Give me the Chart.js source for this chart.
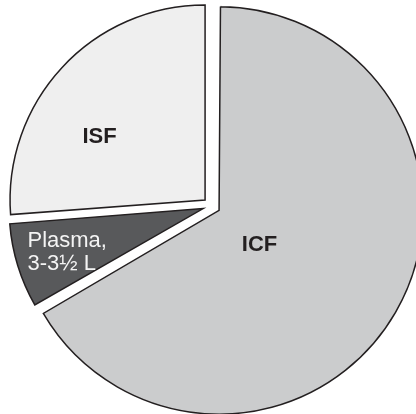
<!DOCTYPE html>
<html>
<head>
<meta charset="utf-8">
<script src="https://cdn.jsdelivr.net/npm/chart.js@4.4.1/dist/chart.umd.min.js"></script>
<style>
  html, body { margin: 0; padding: 0; background: #ffffff; }
  #wrap { width: 416px; height: 414px; position: relative; }
</style>
</head>
<body>
<div id="wrap"><canvas id="chart"></canvas></div>
<script>
// Body water compartments (litres)
const compartments = ['ICF', 'Plasma', 'ISF'];
const volumes = [28, 3, 11];

const fills = ['#cbcccd', '#58595b', '#efefef'];

// Exploded slices grow with their offset; the thin plasma wedge is pulled back in
const radiusTrim = [0, 6, 0];

// Text drawn inside each slice, placed relative to the pie centre
const sliceText = [
  { lines: ['ICF'], dx: 48, dy: 39, font: 'bold 22px "Liberation Sans", Arial, sans-serif', color: '#231f20', align: 'center' },
  { lines: ['Plasma,', '3-3\u00BD L'], dx: -184, dy: 41, font: '22px "Liberation Sans", Arial, sans-serif', color: '#f4f4f4', align: 'left', lineHeight: 23 },
  { lines: ['ISF'], dx: -112, dy: -69, font: 'bold 22px "Liberation Sans", Arial, sans-serif', color: '#231f20', align: 'center' }
];

const sliceRadius = {
  id: 'sliceRadius',
  beforeDatasetsDraw(chart) {
    const meta = chart.getDatasetMeta(0);
    meta.data.forEach((arc, i) => {
      if (arc._baseR === undefined) arc._baseR = arc.outerRadius;
      arc.outerRadius = arc._baseR - radiusTrim[i];
    });
  }
};

const sliceLabels = {
  id: 'sliceLabels',
  afterDatasetsDraw(chart) {
    const arc = chart.getDatasetMeta(0).data[0];
    const cx = arc.x, cy = arc.y;
    const ctx = chart.ctx;
    ctx.save();
    sliceText.forEach(t => {
      ctx.font = t.font;
      ctx.fillStyle = t.color;
      ctx.textAlign = t.align;
      if (t.lines.length === 1) {
        ctx.textBaseline = 'middle';
        ctx.fillText(t.lines[0], cx + t.dx, cy + t.dy);
      } else {
        ctx.textBaseline = 'alphabetic';
        t.lines.forEach((line, i) => {
          ctx.fillText(line, cx + t.dx, cy + t.dy + i * t.lineHeight);
        });
      }
    });
    ctx.restore();
  }
};

new Chart(document.getElementById('chart'), {
  type: 'pie',
  data: {
    labels: compartments,
    datasets: [{
      data: volumes,
      backgroundColor: fills,
      borderColor: '#231f20',
      borderWidth: 1.5,
      borderJoinStyle: 'miter',
      offset: 35
    }]
  },
  options: {
    responsive: true,
    maintainAspectRatio: false,
    animation: false,
    radius: 195,
    layout: { padding: { left: 7, right: 0, top: 2, bottom: 4 } },
    plugins: {
      legend: { display: false },
      tooltip: { enabled: false }
    }
  },
  plugins: [sliceRadius, sliceLabels]
});
</script>
</body>
</html>
